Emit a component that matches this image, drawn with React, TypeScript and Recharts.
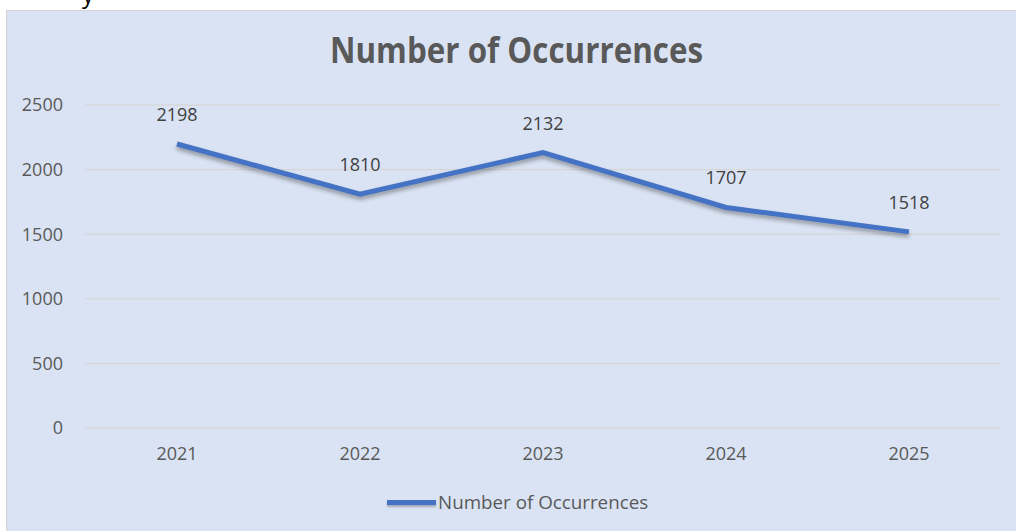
import React from 'react';
import { LineChart, Line, XAxis, YAxis, CartesianGrid, Legend, LabelList } from 'recharts';

const years = ['2021', '2022', '2023', '2024', '2025'];
const occurrences = [2198, 1810, 2132, 1707, 1518];
const yTicks = [0, 500, 1000, 1500, 2000, 2500];
const seriesName = 'Number of Occurrences';
const chartTitle = 'Number of Occurrences';

const data = years.map((y, i) => ({ year: y, value: occurrences[i] }));

const FONT = '"Open Sans", "Liberation Sans", sans-serif';
const BLUE = '#4472c4';

const LegendContent = (props: any) => {
  const item = (props.payload && props.payload[0]) || { value: seriesName, color: BLUE };
  return (
    <div style={{ display: 'flex', alignItems: 'center', height: 24, fontFamily: FONT, fontSize: 18.8, color: '#595959' }}>
      <span style={{ display: 'inline-block', width: 49, height: 5, background: item.color || BLUE, marginRight: 2, boxShadow: '0 2px 2px rgba(0,0,0,0.25)' }} />
      <span style={{ whiteSpace: 'nowrap' }}>{item.value}</span>
    </div>
  );
};

export default function App() {
  return (
    <div style={{ position: 'absolute', left: 0, top: 0, width: 1016, height: 531, overflow: 'hidden', background: '#ffffff' }}>
      <style>{`.occ-line .recharts-line-curve { filter: drop-shadow(0px 3px 2px rgba(0,0,0,0.35)); }`}</style>
      <span style={{ position: 'absolute', left: 82, top: -23, lineHeight: 'normal', fontFamily: FONT, fontSize: 24, color: '#000', zIndex: 3 }}>y</span>
      <div style={{ position: 'absolute', left: 6, top: 10, width: 1030, height: 540, background: '#dae3f3', borderLeft: '1px solid #d2d2d2', borderTop: '1px solid #d2d2d2' }}>
        <LineChart width={1009} height={520} data={data} margin={{ top: 94, right: 15, bottom: 49, left: 0 }}>
          <CartesianGrid vertical={false} stroke="#d6d4d0" strokeWidth={1} />
          <XAxis
            dataKey="year"
            axisLine={false}
            tickLine={false}
            height={30}
            tickMargin={13}
            padding={{ left: 92, right: 92 }}
            tick={{ fill: '#595959', fontSize: 18, fontFamily: FONT }}
          />
          <YAxis
            width={78}
            domain={[0, 2500]}
            ticks={yTicks}
            axisLine={false}
            tickLine={false}
            tickMargin={16}
            tick={{ fill: '#595959', fontSize: 18, fontFamily: FONT }}
          />
          <Legend
            verticalAlign="bottom"
            height={24}
            content={<LegendContent />}
            wrapperStyle={{ top: 479, bottom: 'auto', left: 380, width: 'auto' }}
          />
          <Line
            className="occ-line"
            name={seriesName}
            type="linear"
            dataKey="value"
            stroke={BLUE}
            strokeWidth={5}
            strokeLinecap="butt"
            dot={false}
            activeDot={false}
            isAnimationActive={false}
          >
            <LabelList dataKey="value" position="top" offset={23} fill="#404040" fontSize={18} fontFamily={FONT} />
          </Line>
        </LineChart>
      </div>
      <svg width={1016} height={80} style={{ position: 'absolute', left: 0, top: 0, zIndex: 2 }}>
        <text x={516.5} y={63} textAnchor="middle" fontFamily={FONT} fontWeight={700} fontSize={35} fill="#595959" textLength={373} lengthAdjust="spacingAndGlyphs">
          {chartTitle}
        </text>
      </svg>
    </div>
  );
}
